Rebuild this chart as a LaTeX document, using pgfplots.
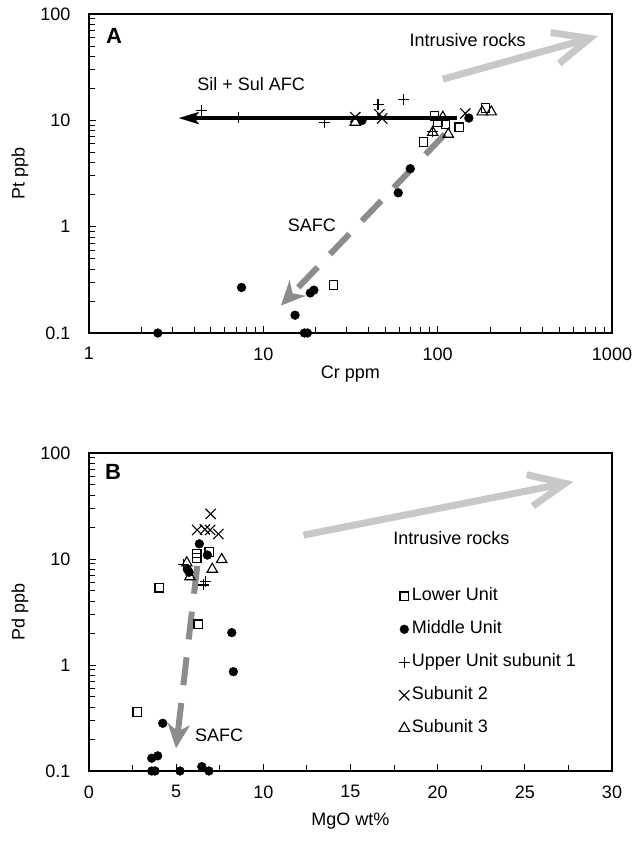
\documentclass[border=0pt]{standalone}
\usepackage{fontspec}
\setmainfont{Liberation Sans}
\usepackage{pgfplots}
\pgfplotsset{compat=1.18}
\usetikzlibrary{arrows.meta}
\newcommand\F{\fontsize{18bp}{21bp}\selectfont}
\definecolor{lightg}{HTML}{C8C8C8}
\definecolor{darkg}{HTML}{8C8C8C}
\pgfplotsset{
 lim/.style={legend image code/.code={\draw[mark repeat=2,mark phase=2,##1] plot coordinates {(0bp,0bp) (8bp,0bp) (18bp,0bp)};}},
 lu/.style={only marks, lim, mark=square, mark size=4.3bp, mark options={line width=1.1bp, black}},
 mu/.style={only marks, lim, mark=*, mark size=4.4bp, mark options={black, fill=black}},
 u1/.style={only marks, lim, mark=+, mark size=5.5bp, mark options={line width=1.1bp, black}},
 u2/.style={only marks, lim, mark=x, mark size=7.2bp, mark options={line width=1.1bp, black}},
 u3/.style={only marks, lim, mark=triangle, mark size=6bp, mark options={line width=1.1bp, black}},
}
\begin{document}
\begin{tikzpicture}
\useasboundingbox (0bp,0bp) rectangle (634bp,854bp);
% ---------------- Panel A ----------------
\begin{axis}[scale only axis, width=523bp, height=319bp, anchor=south west, clip=false,
  at={(89bp,521bp)},
  axis line style={line width=1.1bp},
  tick style={black, line width=0.9bp},
  major tick length=7bp, minor tick length=6bp,
  tick align=inside, xtick pos=bottom, ytick pos=left,
  ymode=log, ymin=0.1, ymax=100,
  xmode=log, xmin=1, xmax=1000,
  log ticks with fixed point,
  tick label style={font=\F},
  /pgf/number format/assume math mode=true,
  /pgf/number format/1000 sep={},
  label style={font=\F},
  yticklabel style={xshift=-15bp},
  xticklabel style={yshift=-11bp},
  xlabel={Cr ppm}, ylabel={Pt ppb},
  xlabel style={at={(axis description cs:0.5,-0.13)}, anchor=center},
  ylabel style={at={(axis description cs:-0.132,0.5)}, anchor=center}]
\addplot[lightg, line width=7bp, line cap=butt, -{Straight Barb[length=36bp,width=32bp]}, forget plot] coordinates {(107,24.4) (831,62)};
\addplot[black, line width=3.2bp, -{Stealth[length=20bp,width=12bp,inset=4bp]}, forget plot] coordinates {(129,10.5) (3.27,10.5)};
\addplot[lu] coordinates {(95.9,11.0) (100,9.6) (111,9.25) (133,8.6) (82.8,6.28) (188,13.1) (25.3,0.283)};
\addplot[mu] coordinates {(36.8,9.98) (151,10.5) (69.6,3.51) (59.4,2.08) (7.5,0.268) (15.2,0.147) (18.6,0.238) (19.5,0.253) (2.48,0.1) (17.2,0.1) (17.9,0.1)};
\addplot[u1] coordinates {(4.40,12.3) (7.23,10.6) (22.4,9.5) (45.5,13.96) (63.7,15.6) (92.9,7.9)};
\addplot[u2] coordinates {(33.7,10.7) (46.3,11.4) (48,10.4) (144,11.6)};
\addplot[u3] coordinates {(33.7,9.6) (107,10.7) (93.6,7.7) (115,7.4) (180,12.0) (203,12.0)};
\addplot[darkg, line width=6bp, line cap=butt, dash pattern=on 28bp off 18bp, -{Stealth[length=24bp,width=22bp,inset=7bp]}, forget plot] coordinates {(110,7.4) (12.6,0.181)};
\node[font=\fontsize{22bp}{25bp}\selectfont\bfseries] at (rel axis cs:0.048,0.931) {A};
\node[font=\F] at (rel axis cs:0.724,0.918) {Intrusive rocks};
\node[font=\F] at (rel axis cs:0.310,0.781) {Sil + Sul AFC};
\node[font=\F] at (rel axis cs:0.426,0.339) {SAFC};
\end{axis}
% ---------------- Panel B ----------------
\begin{axis}[scale only axis, width=523bp, height=318bp, anchor=south west, clip=false,
  at={(89bp,83bp)},
  axis line style={line width=1.1bp},
  tick style={black, line width=0.9bp},
  major tick length=7bp, minor tick length=6bp,
  tick align=inside, xtick pos=bottom, ytick pos=left,
  ymode=log, ymin=0.1, ymax=100,
  log ticks with fixed point,
  xmin=0, xmax=30, xtick={0,5,...,30}, minor x tick num=1,
  tick label style={font=\F},
  /pgf/number format/assume math mode=true,
  /pgf/number format/1000 sep={},
  label style={font=\F},
  yticklabel style={xshift=-15bp},
  xticklabel style={yshift=-11bp},
  xlabel={MgO wt\%}, ylabel={Pd ppb},
  xlabel style={at={(axis description cs:0.5,-0.158)}, anchor=center},
  ylabel style={at={(axis description cs:-0.132,0.5)}, anchor=center},
  legend style={draw=none, fill=none, font=\F, inner sep=0pt,
    at={(axis description cs:0.592,0.583)}, anchor=north west,
    nodes={text height=13bp, text depth=4bp, inner sep=2bp},
    row sep=12bp},
  legend cell align=left]
\addplot[lightg, line width=7bp, line cap=butt, -{Straight Barb[length=36bp,width=32bp]}, forget plot] coordinates {(12.3,16.8) (27.79,53.6)};
\addplot[lu] coordinates {(4.03,5.36) (6.27,2.42) (6.18,11.3) (6.90,11.7) (6.18,10.2) (2.77,0.362)};
\addplot[mu] coordinates {(6.33,13.9) (6.79,10.9) (5.64,8.0) (5.74,7.5) (8.19,2.02) (8.28,0.865) (4.23,0.282) (3.60,0.132) (3.94,0.139) (3.60,0.1) (3.79,0.1) (5.22,0.1) (6.47,0.11) (6.88,0.1)};
\addplot[u1] coordinates {(6.56,5.69) (6.66,6.1) (5.41,8.8)};
\addplot[u2] coordinates {(6.98,26.6) (6.2,18.8) (6.65,19.0) (6.95,18.8) (7.42,17.2)};
\addplot[u3] coordinates {(7.61,9.9) (7.07,8.0) (5.61,9.2) (5.79,6.8)};
\addplot[darkg, line width=6bp, line cap=butt, dash pattern=on 28bp off 18bp, -{Stealth[length=24bp,width=22bp,inset=7bp]}, forget plot] coordinates {(6.21,8.6) (4.99,0.164)};
\legend{Lower Unit, Middle Unit, Upper Unit subunit 1, Subunit 2, Subunit 3}
\node[font=\fontsize{22bp}{25bp}\selectfont\bfseries] at (rel axis cs:0.046,0.941) {B};
\node[font=\F] at (rel axis cs:0.693,0.733) {Intrusive rocks};
\node[font=\F] at (rel axis cs:0.249,0.113) {SAFC};
\end{axis}
\end{tikzpicture}
\end{document}
